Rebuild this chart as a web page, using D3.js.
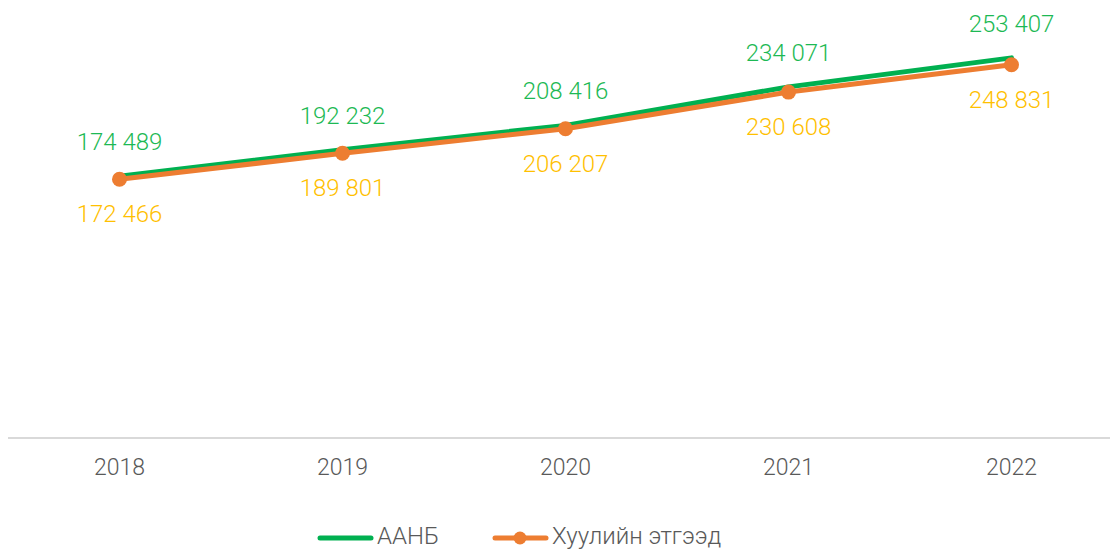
<!DOCTYPE html>
<html><head><meta charset="utf-8">
<script src="https://cdn.jsdelivr.net/npm/d3@7"></script>
<style>body{margin:0;background:#fff}svg{display:block;font-family:Roboto,"Noto Sans",sans-serif;font-weight:300}</style>
</head><body><svg id="c" width="1110" height="550"></svg>
<script>
const years = ["2018","2019","2020","2021","2022"];
const aanb = [174489,192232,208416,234071,253407];
const legal = [172466,189801,206207,230608,248831];
const seriesNames = ["ААНБ","Хуулийн этгээд"];

const svg = d3.select("#c");
const x = d3.scaleBand().domain(years).range([8,1123]);
const y = d3.scaleLinear().domain([0,300000]).range([438,-12]);
const fmt = v => d3.format(",")(v).replace(/,/g," ");
const cx = d => x(d) + x.bandwidth()/2;

svg.append("line").attr("x1",8).attr("x2",1110).attr("y1",438).attr("y2",438)
  .attr("stroke","#d9d9d9").attr("stroke-width",2);

svg.selectAll(".xl").data(years).join("text").attr("x",cx).attr("y",475)
  .attr("text-anchor","middle").attr("font-size",23).attr("fill","#595959").text(d=>d);

const line = d3.line().x((d,i)=>cx(years[i])).y(d=>y(d));
svg.append("path").datum(aanb).attr("d",line).attr("fill","none")
  .attr("stroke","#00B050").attr("stroke-width",5).attr("stroke-linejoin","round").attr("stroke-linecap","round");
svg.append("path").datum(legal).attr("d",line).attr("fill","none")
  .attr("stroke","#ED7D31").attr("stroke-width",5).attr("stroke-linejoin","round").attr("stroke-linecap","round");
svg.selectAll(".mk").data(legal).join("circle").attr("cx",(d,i)=>cx(years[i])).attr("cy",d=>y(d))
  .attr("r",7.5).attr("fill","#ED7D31");

svg.selectAll(".la").data(aanb).join("text").attr("x",(d,i)=>cx(years[i])).attr("y",d=>y(d)-26)
  .attr("text-anchor","middle").attr("font-size",24).attr("fill","#1DB954").text(fmt);
svg.selectAll(".lb").data(legal).join("text").attr("x",(d,i)=>cx(years[i])).attr("y",d=>y(d)+43)
  .attr("text-anchor","middle").attr("font-size",24).attr("fill","#FFC000").text(fmt);

const lg = svg.append("g");
lg.append("line").attr("x1",320).attr("x2",371).attr("y1",538).attr("y2",538)
  .attr("stroke","#00B050").attr("stroke-width",5).attr("stroke-linecap","round");
lg.append("text").attr("x",377).attr("y",544).attr("font-size",24).attr("fill","#595959").text(seriesNames[0]);
lg.append("line").attr("x1",495).attr("x2",546).attr("y1",538).attr("y2",538)
  .attr("stroke","#ED7D31").attr("stroke-width",5).attr("stroke-linecap","round");
lg.append("circle").attr("cx",520).attr("cy",538).attr("r",6.5).attr("fill","#ED7D31");
lg.append("text").attr("x",552).attr("y",544).attr("font-size",24).attr("fill","#595959").text(seriesNames[1]);
</script></body></html>
